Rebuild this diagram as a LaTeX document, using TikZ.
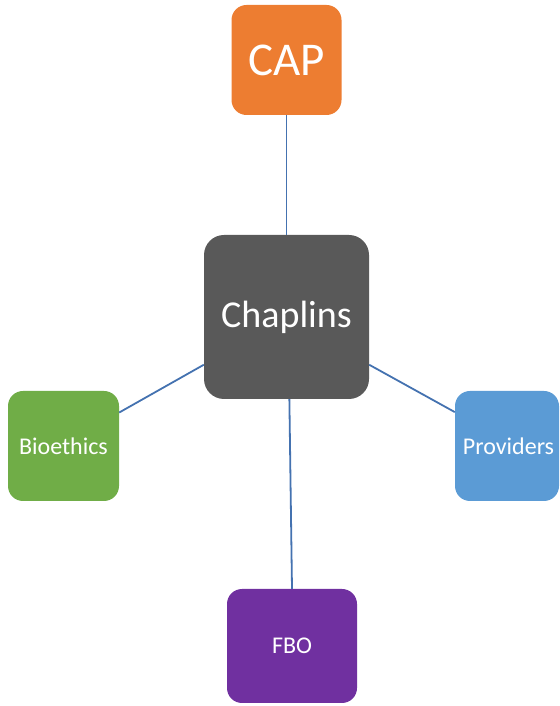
\documentclass[tikz,border=0pt]{standalone}
\usepackage{fontspec}
\setmainfont{Carlito}
\usepackage{tikz}
\usetikzlibrary{positioning,calc}
\definecolor{CapOrange}{RGB}{237,125,49}
\definecolor{ChapGray}{RGB}{89,89,89}
\definecolor{BioGreen}{RGB}{112,173,71}
\definecolor{ProvBlue}{RGB}{91,155,213}
\definecolor{FboPurple}{RGB}{112,48,160}
\definecolor{LinkBlue}{RGB}{68,114,176}
\tikzset{
  box/.style={draw=none,rounded corners=15pt,text=white,inner sep=0pt,align=center},
  link/.style={draw=LinkBlue,line width=1.8pt},
}

\begin{document}
\begin{tikzpicture}[x=1pt,y=1pt]
\useasboundingbox (0,0) rectangle (559,706);
\node[box,fill=CapOrange,minimum width=110pt,minimum height=110pt,font=\fontsize{47}{50}\selectfont] (cap) at (286.5,646) {CAP};
\node[box,fill=ChapGray,rounded corners=20pt,minimum width=165pt,minimum height=164pt,font=\fontsize{38}{41}\selectfont] (chap) at (286.5,389) {Chaplins};
\node[box,fill=BioGreen,minimum width=111pt,minimum height=110pt,font=\fontsize{24}{27}\selectfont] (bio) at (63.5,260) {Bioethics};
\node[box,fill=ProvBlue,minimum width=104pt,minimum height=110pt,font=\fontsize{24}{27}\selectfont] (prov) at (507,260) {\hspace{3pt}Providers};
\node[box,fill=FboPurple,minimum width=130pt,minimum height=114pt,font=\fontsize{24}{27}\selectfont] (fbo) at (292,60) {FBO};
\draw[link] (cap.south) -- (chap.north);
\draw[link] (chap.210) -- (bio.31);
\draw[link] (chap.-30) -- (prov.147);
\draw[link] (chap.-88) -- (fbo.north);
\end{tikzpicture}
\end{document}
